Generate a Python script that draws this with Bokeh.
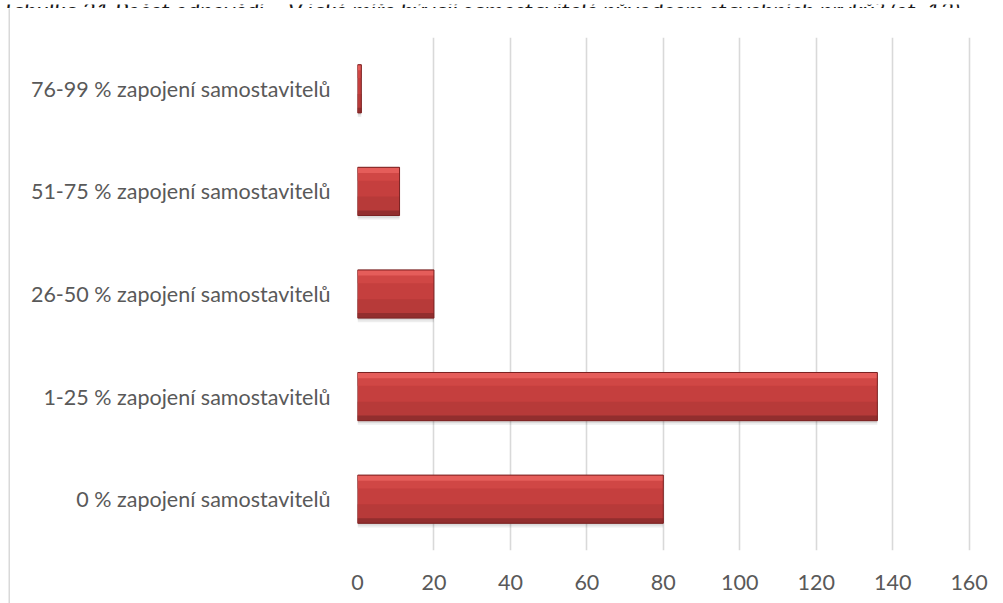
from bokeh.plotting import figure
from bokeh.layouts import column, row
from bokeh.models import Label, FixedTicker
from bokeh.transform import dodge
from bokeh.embed import file_html
from bokeh.resources import INLINE

# Response counts per level of self-builder involvement (bottom to top)
categories = [
    "0 % zapojení samostavitelů",
    "1-25 % zapojení samostavitelů",
    "26-50 % zapojení samostavitelů",
    "51-75 % zapojení samostavitelů",
    "76-99 % zapojení samostavitelů",
]
counts = [80, 136, 20, 11, 1]
x_ticks = [0, 20, 40, 60, 80, 100, 120, 140, 160]
caption = ("Tabulka 21 Počet odpovědí – V jaké míře bývají samostavitelé "
           "původcem stavebních prvků? (ot. 13)")

FONT = "Lato"
LABEL_GREY = "#595959"
BORDER_GREY = "#d9d9d9"


def strip(w, h, color):
    """Plain filled block used for the caption band and the chart-area border."""
    f = figure(width=w, height=h, output_backend="svg", toolbar_location=None,
               x_axis_location=None, y_axis_location=None,
               min_border=0, min_border_left=0, min_border_right=0,
               min_border_top=0, min_border_bottom=0)
    f.background_fill_color = color
    f.border_fill_color = color
    f.outline_line_color = None
    f.grid.visible = False
    return f


# caption band (the heading runs off the top edge)
cap = strip(1003, 8, "white")
cap.add_layout(Label(
    x=1, y=3, x_units="screen", y_units="screen",
    text=caption, text_font=FONT, text_font_style="italic",
    text_font_size="23.5px", text_color="#1a1a1a", text_baseline="alphabetic",
))

pad = strip(8, 595, "white")
vline = strip(2, 595, BORDER_GREY)
hline = strip(993, 2, BORDER_GREY)

# main bar chart
p = figure(
    width=993, height=593,
    y_range=categories, x_range=(0, 169),
    output_backend="svg", toolbar_location=None,
    min_border_left=347, min_border_right=0,
    min_border_top=27, min_border_bottom=53,
)
p.y_range.range_padding = 0
p.background_fill_color = "white"
p.border_fill_color = "white"
p.outline_line_color = None

src = dict(cat=categories, val=counts)
BAR_H = 0.47

# soft drop shadow under each bar
p.hbar(y=dodge("cat", -0.04, range=p.y_range), right="val", left=0, height=BAR_H,
       source=src, fill_color="#000000", fill_alpha=0.07, line_color=None)
p.hbar(y=dodge("cat", -0.022, range=p.y_range), right="val", left=0, height=BAR_H,
       source=src, fill_color="#000000", fill_alpha=0.08, line_color=None)
# bar body
p.hbar(y="cat", right="val", left=0, height=BAR_H, source=src,
       fill_color="#c53f3e", line_color=None)
# upper highlight bands
p.hbar(y=dodge("cat", 0.17, range=p.y_range), right="val", left=0, height=0.13,
       source=src, fill_color="#d04745", line_color=None)
p.hbar(y=dodge("cat", 0.205, range=p.y_range), right="val", left=0, height=0.05,
       source=src, fill_color="#e55d5a", line_color=None)
# lower darker bands
p.hbar(y=dodge("cat", -0.14, range=p.y_range), right="val", left=0, height=0.18,
       source=src, fill_color="#b73a39", line_color=None)
p.hbar(y=dodge("cat", -0.21, range=p.y_range), right="val", left=0, height=0.05,
       source=src, fill_color="#922e2e", line_color=None)
# dark rim
p.hbar(y="cat", right="val", left=0, height=BAR_H, source=src,
       fill_color=None, line_color="#7a2222", line_width=1)

# axes
p.xaxis.ticker = FixedTicker(ticks=x_ticks)
for ax in (p.xaxis, p.yaxis):
    ax.axis_line_color = None
    ax.major_tick_line_color = None
    ax.minor_tick_line_color = None
    ax.major_label_text_font = FONT
    ax.major_label_text_font_size = "21.5px"
    ax.major_label_text_color = LABEL_GREY
p.xaxis.major_label_standoff = 18
p.yaxis.major_label_standoff = 21

p.xgrid.grid_line_color = BORDER_GREY
p.xgrid.grid_line_width = 1.6
p.ygrid.grid_line_color = None

page = column(cap, row(pad, vline, column(hline, p, spacing=0), spacing=0), spacing=0)

open("out.html", "w").write(file_html(page, INLINE))
